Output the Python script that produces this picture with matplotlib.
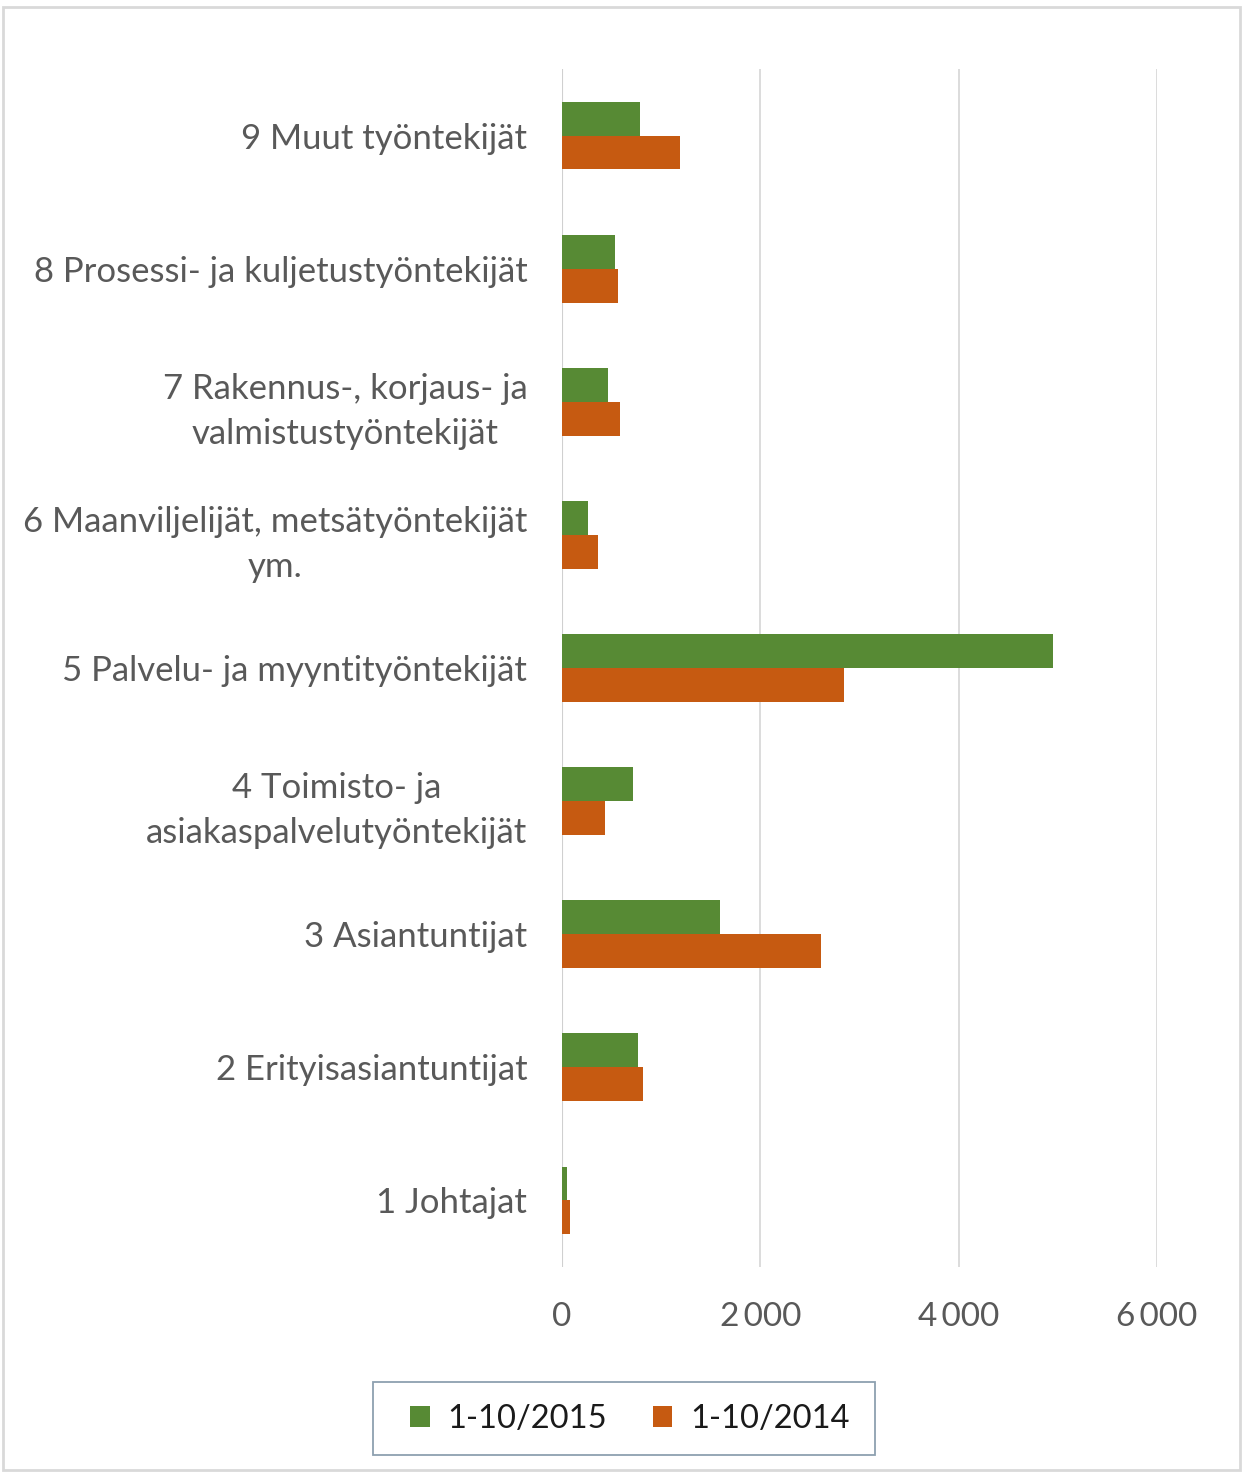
import matplotlib
matplotlib.use("Agg")
import matplotlib.pyplot as plt
import numpy as np
from matplotlib.patches import Rectangle

categories = [
    "1 Johtajat",
    "2 Erityisasiantuntijat",
    "3 Asiantuntijat",
    "4 Toimisto- ja\nasiakaspalvelutyöntekijät",
    "5 Palvelu- ja myyntityöntekijät",
    "6 Maanviljelijät, metsätyöntekijät\nym.",
    "7 Rakennus-, korjaus- ja\nvalmistustyöntekijät",
    "8 Prosessi- ja kuljetustyöntekijät",
    "9 Muut työntekijät",
]
values_2015 = [55, 765, 1595, 713, 4950, 263, 465, 535, 790]
values_2014 = [84, 815, 2613, 434, 2845, 364, 586, 566, 1190]
series_names = ["1-10/2015", "1-10/2014"]
xticks = [0, 2000, 4000, 6000]
xtick_labels = ["0", "2\u2009000", "4\u2009000", "6\u2009000"]

plt.rcParams['font.family'] = ['Lato', 'DejaVu Sans']

fig = plt.figure(figsize=(12.42, 14.74), dpi=100)
ax = fig.add_axes([562/1242, 1 - 1267/1474, (1157-562)/1242, (1267-69)/1474])

green = "#578A34"
orange = "#C65A11"
h = 0.255
y = np.arange(len(categories))
ax.barh(y + h/2, values_2015, height=h, color=green, label=series_names[0], zorder=3)
ax.barh(y - h/2, values_2014, height=h, color=orange, label=series_names[1], zorder=3)

ax.set_xlim(0, 6000)
ax.set_ylim(-0.5, len(categories) - 0.5)
ax.set_xticks(xticks)
ax.set_xticklabels(xtick_labels)
ax.set_yticks(y)
ax.set_yticklabels(categories, multialignment='center', linespacing=1.5)
ax.tick_params(axis='y', length=0, labelsize=25, colors="#595959", pad=25)
ax.tick_params(axis='x', length=0, labelsize=24, colors="#595959", pad=25)
ax.grid(axis='x', color="#D9D9D9", linewidth=1.3, zorder=0)
for s in ax.spines.values():
    s.set_visible(False)
ax.axvline(0, color="#D0D0D0", linewidth=1.5, zorder=2)

leg = fig.legend(loc='center', bbox_to_anchor=(630/1242, 1 - 1419/1474), ncol=2,
                 fontsize=23.5, frameon=False,
                 handlelength=0.6, handleheight=0.6, handletextpad=0.55,
                 columnspacing=1.4, borderpad=0, borderaxespad=0)
for t in leg.get_texts():
    t.set_color("#1A1A1A")

fig.patches.append(Rectangle((373/1242, 1 - 1455/1474), (875-373)/1242, 73/1474,
                             transform=fig.transFigure, fill=False,
                             edgecolor="#8DA0B0", linewidth=1.3))

fig.patches.append(Rectangle((3/1242, 1 - 1470/1474), 1237/1242, 1463/1474,
                             transform=fig.transFigure, fill=False,
                             edgecolor="#D9D9D9", linewidth=2))

fig.savefig("out.png", dpi=100)
